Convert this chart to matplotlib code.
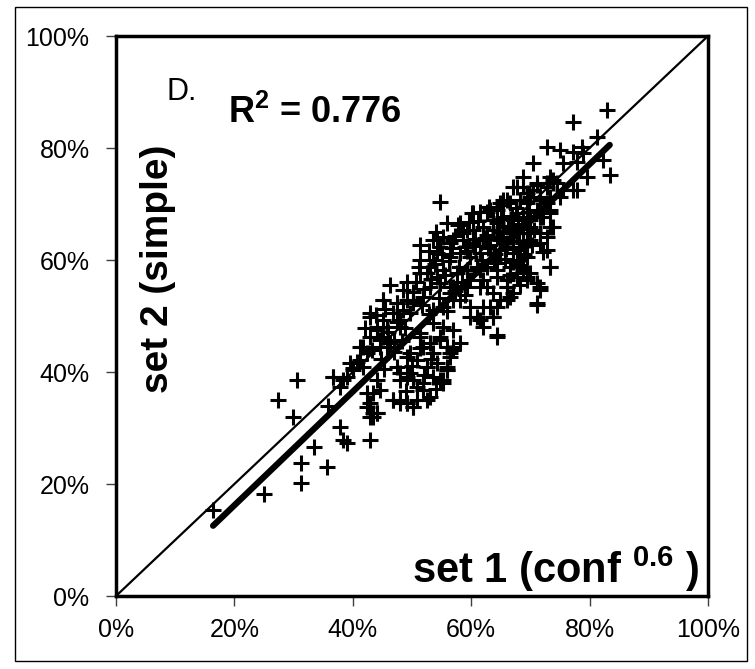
import matplotlib
matplotlib.use("Agg")
import matplotlib.pyplot as plt
from matplotlib.patches import Rectangle
import numpy as np

plt.rcParams['font.family'] = ['Liberation Sans', 'DejaVu Sans']
plt.rcParams['mathtext.fontset'] = 'custom'
plt.rcParams['mathtext.rm'] = 'Liberation Sans'
plt.rcParams['mathtext.bf'] = 'Liberation Sans:bold'

# set 1 (x) and set 2 (y) values in percent
set1 = [16.4, 25.0, 27.3, 30.5, 29.9, 33.4, 31.3, 31.3, 35.6, 35.8, 37.8, 38.3, 39.0, 42.9,
        36.7, 39.0, 40.0, 40.7, 42.4, 43.4, 44.1, 42.4, 41.7, 42.9, 45.1, 47.5, 44.1, 44.6,
        45.8, 46.8, 48.0, 49.2, 50.2, 50.8, 51.9, 53.0, 52.5, 54.7, 55.2, 55.9, 56.4, 56.9,
        49.2, 48.0, 42.9,
        54.7, 60.1, 61.5, 63.2, 55.9, 57.8, 59.3, 64.9, 66.0, 67.7, 69.4, 71.1, 72.8, 73.8,
        77.2, 73.3, 71.6, 72.8, 73.3, 71.6, 71.1, 69.4, 67.7, 66.0, 66.6, 64.4, 63.7, 64.4,
        58.1, 56.4, 55.9, 61.5, 62.0, 59.8, 51.4, 53.5, 52.5, 54.2, 50.2, 54.2, 54.7, 56.4,
        48.5, 48.0, 51.4, 51.9, 53.5, 49.2, 49.7,
        82.9, 77.2, 81.3, 72.8, 75.0, 77.2, 78.7, 78.9, 70.4, 75.5, 77.9, 82.3, 83.4, 79.6,
        68.8, 73.3, 73.8, 77.9, 70.4, 71.6, 69.4, 72.8, 75.0, 71.1, 73.3, 69.9, 72.1, 73.8,
        71.6, 72.8, 68.8, 69.4, 68.2, 72.1, 73.3, 68.8, 69.4, 71.1, 71.6, 71.1,
        45.1, 47.5, 49.2, 42.9, 45.1, 46.8, 44.1, 45.8, 48.0, 49.7, 42.9, 45.1, 44.6, 46.3,
        41.2, 42.4, 39.5, 41.2, 40.0, 41.7, 36.7, 38.3, 37.8, 51.4, 53.0, 54.7, 55.9, 56.9,
        49.7, 50.8, 52.5, 54.2, 55.9, 47.5, 49.2, 48.0, 50.2, 51.9, 53.5, 55.2, 44.1, 44.6,
        43.4, 46.8, 48.0, 49.2, 50.2, 50.8, 52.5, 42.9, 44.1, 43.4, 53.5, 55.2, 56.9, 53.5,
        55.2, 56.9, 54.7, 53.0, 54.7, 56.4, 50.2, 51.9,
        66.0, 67.1, 68.2, 64.9, 66.0, 63.2, 63.7, 62.0, 64.4, 61.0, 59.8, 58.1, 56.4, 61.5,
        62.7, 63.7, 59.3, 56.9,
        67.1, 68.8, 71.1, 72.8, 74.5, 75.5, 65.4, 66.6, 68.2, 69.9, 71.6, 73.3, 60.3, 62.7,
        64.4, 63.7, 65.4, 58.1, 58.6, 60.3, 62.0, 67.7, 68.8, 69.9, 71.6, 73.3,
        53.5, 55.2, 56.9, 58.6, 60.3, 62.0, 64.4, 65.4, 66.6, 54.2, 56.4, 58.1, 59.8, 61.5,
        63.2, 64.9, 67.1, 68.8, 69.9, 53.0, 55.2, 57.6, 59.3, 61.0, 62.7, 64.4, 66.6, 67.7,
        69.4, 54.7, 57.6, 59.8, 62.0, 64.4, 66.0, 67.7, 68.8, 69.9,
        49.2, 50.2, 48.5, 51.4, 46.3, 51.4,
        64.4, 65.4, 66.6, 67.7, 68.8, 64.9, 66.0, 67.1, 68.2, 69.4, 63.7, 63.2, 69.9, 69.4,
        67.1, 65.7, 64.4, 66.6, 68.2, 61.5, 60.6, 59.3, 62.7,
        61.2, 62.4, 63.0, 64.1, 65.0, 65.8, 66.3, 67.0, 67.5, 68.0, 68.6, 69.0, 69.7, 70.2,
        70.6, 61.8, 62.9, 63.9, 64.7, 65.3, 66.9, 67.9, 60.7, 59.7, 58.9,
        50.6, 51.2, 52.1, 52.8, 53.2, 53.9, 54.5, 55.0, 55.6, 56.2, 56.8, 57.3, 57.9, 58.5,
        59.0, 51.7, 52.9, 55.9, 54.1, 57.2,
        42.0, 43.2, 43.9, 44.8, 45.5, 46.0, 46.9, 47.4, 48.3, 48.9, 47.0, 45.2,
        50.0, 51.3, 52.0, 53.2, 54.0, 49.0]
set2 = [15.4, 18.2, 35.0, 38.6, 32.0, 26.6, 23.7, 20.2, 23.0, 33.9, 30.2, 27.9, 27.3, 27.9,
        39.1, 39.1, 40.7, 41.8, 33.8, 32.7, 32.7, 36.3, 44.5, 49.8, 52.9, 52.3, 47.5, 45.7,
        44.5, 35.0, 35.0, 34.5, 33.8, 37.3, 36.8, 35.5, 40.9, 38.6, 38.0, 40.9, 42.7, 44.5,
        39.1, 39.8, 32.0,
        70.4, 68.4, 68.6, 68.9, 66.6, 66.3, 65.4, 70.2, 70.7, 73.0, 72.0, 73.4, 73.8, 74.3,
        72.5, 65.9, 63.0, 61.8, 58.8, 55.2, 52.0, 56.4, 57.7, 55.2, 53.4, 51.6, 49.8, 46.6,
        45.2, 43.4, 40.4, 49.3, 51.6, 49.8, 60.0, 60.0, 57.7, 57.0, 52.9, 63.6, 62.3, 63.0,
        51.1, 48.0, 47.0, 44.5, 43.4, 42.7, 39.8,
        86.8, 84.6, 82.0, 80.2, 79.6, 79.3, 80.2, 79.1, 77.3, 77.3, 77.5, 77.9, 75.2, 74.8,
        74.8, 74.8, 73.8, 72.5, 72.5, 71.3, 70.2, 70.2, 71.3, 68.9, 68.9, 67.7, 67.7, 65.9,
        64.8, 64.1, 64.8, 63.0, 62.3, 61.4, 58.8, 58.8, 57.0, 55.9, 54.6, 52.3,
        52.9, 52.3, 52.9, 50.5, 49.3, 50.5, 48.0, 48.0, 49.3, 50.5, 46.3, 46.3, 44.5, 45.2,
        44.5, 43.4, 41.6, 42.1, 40.4, 40.9, 39.1, 38.6, 37.3, 46.3, 45.2, 45.7, 44.5, 43.9,
        43.4, 42.1, 40.9, 41.6, 40.4, 40.9, 39.8, 38.6, 38.6, 38.0, 39.1, 38.6, 38.6, 36.8,
        36.3, 35.0, 34.5, 34.5, 33.8, 35.0, 35.0, 34.5, 32.7, 32.0, 51.1, 51.6, 52.9, 48.8,
        48.0, 47.5, 46.3, 55.2, 55.9, 55.2, 52.3, 53.4,
        55.2, 54.1, 55.5, 52.9, 52.9, 51.6, 49.8, 48.0, 46.3, 49.8, 51.6, 52.9, 54.1, 55.2,
        55.2, 54.1, 55.2, 55.2,
        73.0, 73.0, 73.8, 73.0, 73.8, 72.5, 70.7, 70.2, 70.7, 71.3, 70.7, 71.3, 68.4, 68.6,
        68.9, 67.1, 67.7, 66.6, 64.8, 65.4, 65.9, 68.4, 67.7, 67.1, 67.7, 68.4,
        63.6, 64.1, 63.6, 63.6, 63.0, 63.6, 64.1, 64.8, 65.4, 61.3, 60.5, 61.3, 60.5, 61.3,
        61.3, 61.8, 62.3, 63.0, 63.6, 58.8, 58.2, 57.7, 58.2, 58.8, 58.8, 59.5, 58.8, 60.0,
        60.5, 55.9, 55.2, 56.4, 56.4, 57.0, 56.4, 57.0, 58.2, 57.7,
        56.1, 54.3, 54.6, 57.7, 55.5, 62.7,
        66.6, 65.9, 64.1, 64.8, 65.9, 63.6, 63.0, 61.3, 61.8, 64.8, 65.4, 62.7, 65.9, 67.1,
        67.1, 60.2, 58.2, 57.3, 59.1, 58.2, 62.5, 61.6, 64.5,
        66.9, 64.0, 69.5, 61.0, 67.4, 62.0, 66.0, 59.6, 69.3, 63.4, 66.4, 61.0, 68.5, 62.6,
        65.3, 60.0, 62.1, 59.8, 65.0, 69.8, 67.9, 65.5, 63.8, 66.8, 62.4,
        56.0, 58.7, 54.8, 61.6, 56.6, 59.2, 53.3, 61.0, 57.4, 59.9, 62.2, 54.5, 58.7, 56.0,
        53.8, 51.9, 50.3, 50.9, 65.0, 64.3,
        47.8, 44.0, 50.2, 42.3, 51.2, 47.1, 43.5, 49.0, 45.6, 47.9, 45.8, 40.5,
        41.0, 44.2, 39.4, 42.4, 37.0, 36.6]

r_squared = 0.776
# trend line: slope and intercept in percent units
trend_slope = 1.015
trend_intercept = -4.1

x = np.array(set1) / 100.0
y = np.array(set2) / 100.0

fig = plt.figure(figsize=(7.55, 6.69), dpi=100)
ax = fig.add_axes([116/755, 1-596/669, (708-116)/755, (596-36)/669])

ax.plot([0, 1], [0, 1], color='black', lw=1.6, zorder=2)
xt = np.array([x.min(), x.max()])
ax.plot(xt, trend_slope * xt + trend_intercept / 100.0, color='black', lw=4.5,
        solid_capstyle='round', zorder=3)
ax.plot(x, y, linestyle='none', marker='+', color='black', markersize=12,
        markeredgewidth=2.2, zorder=4)

ax.set_xlim(0, 1)
ax.set_ylim(0, 1)
ticks = np.linspace(0, 1, 6)
ax.set_xticks(ticks)
ax.set_yticks(ticks)
ax.set_xticklabels([f"{int(round(t*100))}%" for t in ticks])
ax.set_yticklabels([f"{int(round(t*100))}%" for t in ticks])
ax.tick_params(direction='out', length=7, width=1, color='#404040', labelsize=18)
ax.tick_params(axis='x', pad=9)
ax.tick_params(axis='y', pad=12)
for s in ax.spines.values():
    s.set_linewidth(2.5)

ax.text(0.086, 0.886, "D.", fontsize=22, ha='left', va='baseline', transform=ax.transAxes)
ax.text(0.189, 0.845, "R$^{\\mathbf{2}}$ = 0.776", fontsize=26, fontweight='bold',
        ha='left', va='baseline', transform=ax.transAxes)
ax.text(0.071, 0.585, "set 2 (simple)", fontsize=28, fontweight='bold', rotation=90,
        ha='center', va='center', transform=ax.transAxes)
ax.text(0.985, 0.024, "set 1 (conf $^{\\mathbf{0.6}}$ )", fontsize=30, fontweight='bold',
        ha='right', va='baseline', transform=ax.transAxes)

fig.patches.append(Rectangle((15/755, 1-661/669), (747-15)/755, (661-7)/669,
                             transform=fig.transFigure, fill=False, edgecolor='black', lw=1))

fig.savefig("out.png", dpi=100)
